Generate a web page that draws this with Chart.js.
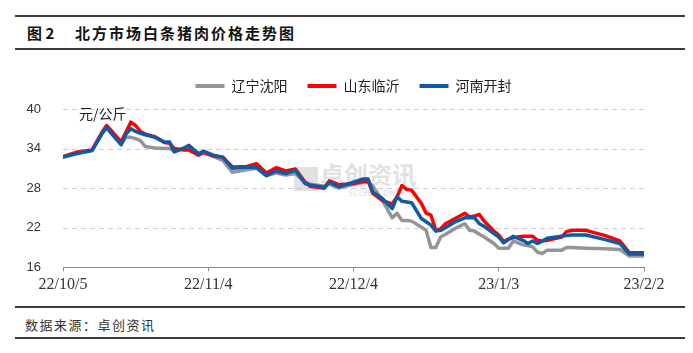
<!DOCTYPE html>
<html>
<head>
<meta charset="utf-8">
<script src="https://cdn.jsdelivr.net/npm/chart.js@4.4.1/dist/chart.umd.min.js"></script>
<style>
  html, body { margin: 0; padding: 0; background: #fff; width: 693px; height: 353px; overflow: hidden; }
  .rule { position: absolute; left: 15px; width: 670px; height: 2px; background: #3c3c3c; }
  .title { position: absolute; left: 27px; top: 25px; font: bold 15px/16px "Noto Sans CJK SC", sans-serif; color: #111; letter-spacing: 2px; white-space: nowrap; }
  .title .num { display: inline-block; width: 48px; letter-spacing: 0; }
  .source { position: absolute; left: 25px; top: 317px; font: 13px/15px "Noto Sans CJK SC", sans-serif; color: #333; letter-spacing: 1.5px; }
  #wrap { position: absolute; left: 0; top: 55px; width: 693px; height: 245px; }
</style>
</head>
<body>
<div class="rule" style="top:15px"></div>
<div class="title"><span class="num">图 2</span>北方市场白条猪肉价格走势图</div>
<div class="rule" style="top:48px"></div>
<div id="wrap"><canvas id="myChart"></canvas></div>
<div class="rule" style="top:306px"></div>
<div class="source">数据来源：卓创资讯</div>
<div class="rule" style="top:337px"></div>

<script>
// 天数（从 22/10/5 起算）
const days = [0, 3, 6, 8, 9, 10, 12, 13, 14, 15, 16, 17, 19, 21, 22, 23, 25, 26, 28, 29, 31, 33, 35, 38, 40, 42, 44, 46, 48, 50, 51, 54, 55, 57, 60, 62, 63, 64, 66, 68, 69, 70, 71, 72, 74, 75, 76, 77, 78, 79, 81, 83, 84, 85, 86, 87, 89, 90, 91, 92, 93, 95, 96, 97, 98, 99, 100, 103, 104, 105, 108, 112, 115, 117, 120];
// 横坐标刻度
const tickDays = [0, 30, 60, 90, 120];
const tickLabels = ['22/10/5', '22/11/4', '22/12/4', '23/1/3', '23/2/2'];
// 纵坐标刻度
const yTicks = [16, 22, 28, 34, 40];

const seriesNames = ['辽宁沈阳', '山东临沂', '河南开封'];
// 辽宁沈阳
const shenyang = [32.7, 33.3, 33.7, 36.2, 37.2, 36.3, 34.6, 35.7, 35.7, 35.5, 35.2, 34.3, 34.1, 34.0, 34.0, 33.6, 34.0, 34.3, 33.3, 33.5, 32.8, 32.2, 30.4, 30.8, 31.0, 29.9, 30.3, 30.0, 30.2, 28.9, 28.6, 28.3, 28.6, 28.0, 28.6, 28.9, 28.9, 28.3, 26.1, 23.5, 24.2, 23.1, 23.1, 23.0, 22.1, 21.6, 19.0, 19.0, 20.6, 21.0, 21.9, 22.6, 21.6, 21.5, 21.0, 20.6, 19.6, 18.9, 18.9, 18.9, 20.0, 19.4, 19.3, 19.1, 18.3, 18.1, 18.6, 18.6, 19.0, 19.0, 18.9, 18.8, 18.7, 17.7, 17.7];
// 山东临沂
const linyi = [32.8, 33.5, 33.8, 36.4, 37.5, 36.7, 35.0, 36.5, 38.0, 37.5, 36.6, 36.2, 35.8, 34.9, 34.8, 34.0, 33.8, 33.8, 33.0, 33.4, 32.9, 32.7, 31.2, 31.3, 31.7, 30.3, 31.1, 30.6, 30.9, 28.9, 28.3, 28.0, 29.1, 28.5, 28.7, 29.0, 29.1, 27.2, 26.1, 25.6, 26.7, 28.4, 27.8, 27.7, 25.7, 24.2, 23.9, 21.6, 21.8, 22.6, 23.4, 24.2, 23.6, 23.8, 24.0, 23.0, 21.5, 20.9, 19.9, 20.3, 20.5, 20.7, 20.7, 20.7, 20.1, 20.0, 20.1, 20.6, 21.4, 21.6, 21.6, 20.8, 20.0, 18.2, 18.2];
// 河南开封
const kaifeng = [32.7, 33.3, 33.7, 36.2, 37.2, 36.3, 34.6, 36.2, 37.0, 36.6, 36.3, 36.1, 35.7, 35.0, 35.0, 33.5, 34.1, 34.5, 33.2, 33.6, 33.0, 32.7, 31.0, 31.2, 31.1, 29.9, 30.6, 30.2, 30.7, 28.7, 28.5, 28.1, 28.9, 28.2, 28.9, 29.4, 29.4, 27.4, 26.4, 24.9, 26.7, 26.0, 25.9, 25.8, 23.4, 22.9, 22.4, 21.5, 21.6, 22.0, 22.9, 23.5, 23.5, 23.5, 22.6, 22.2, 21.1, 20.6, 19.7, 20.2, 20.7, 20.1, 19.6, 20.0, 19.6, 20.0, 20.4, 20.7, 20.8, 20.9, 20.9, 20.2, 19.6, 18.0, 18.0];

function toPoints(values){
  return values.map((v, i) => ({x: days[i], y: v}));
}

// 图例下方留白
const legendGap = {
  id: 'legendGap',
  beforeLayout(chart){
    const lg = chart.legend;
    if (lg && !lg._gapDone) {
      const fit = lg.fit;
      lg.fit = function(){ fit.call(this); this.height += 6; };
      lg._gapDone = true;
    }
  }
};

// 虚线网格、单位和水印
const extraText = {
  id: 'extraText',
  beforeDatasetsDraw(chart){
    const ctx = chart.ctx, a = chart.chartArea, ys = chart.scales.y;
    ctx.save();
    // 虚线网格
    ctx.strokeStyle = '#cfcfcf';
    ctx.lineWidth = 1;
    ctx.setLineDash([5, 4]);
    yTicks.forEach(v => {
      if (v === ys.min) return;
      const py = Math.round(ys.getPixelForValue(v)) + 0.5;
      ctx.beginPath();
      ctx.moveTo(a.left, py);
      ctx.lineTo(a.right, py);
      ctx.stroke();
    });
    ctx.setLineDash([]);
    // 水印
    ctx.fillStyle = 'rgba(195,195,195,0.5)';
    ctx.fillRect(a.left + 231, a.top + 58, 24, 24);
    ctx.font = 'bold 24px "Noto Sans CJK SC"';
    ctx.textBaseline = 'middle';
    ctx.fillText('卓创资讯', a.left + 257, a.top + 66);
    ctx.font = '10px "DejaVu Sans"';
    ctx.fillText('sci99.com', a.left + 285, a.top + 84);
    // 单位
    ctx.fillStyle = '#222';
    ctx.font = '14px "Noto Sans CJK SC"';
    ctx.textAlign = 'left';
    ctx.fillText('元/公斤', a.left + 16, a.top + 5);
    ctx.restore();
  }
};

const config = {
  type: 'line',
  data: {
    datasets: [
      { label: seriesNames[0], data: toPoints(shenyang), borderColor: '#959595', backgroundColor: '#959595', order: 3 },
      { label: seriesNames[1], data: toPoints(linyi), borderColor: '#ff0000', backgroundColor: '#ff0000', order: 2 },
      { label: seriesNames[2], data: toPoints(kaifeng), borderColor: '#0f5aa6', backgroundColor: '#0f5aa6', order: 1 }
    ]
  },
  options: {
    responsive: true,
    maintainAspectRatio: false,
    animation: false,
    elements: {
      line: { borderWidth: 3.5, tension: 0, borderJoinStyle: 'round', borderCapStyle: 'round' },
      point: { radius: 0 }
    },
    layout: { padding: { left: 0, right: 49, top: 4, bottom: 0 } },
    plugins: {
      tooltip: { enabled: false },
      legend: {
        position: 'top',
        fullSize: false,
        labels: {
          boxWidth: 29,
          boxHeight: 4,
          padding: 20,
          color: '#222',
          font: { family: '"Noto Sans CJK SC"', size: 14 },
          sort: (a, b) => a.datasetIndex - b.datasetIndex,
          generateLabels(chart){
            const items = Chart.defaults.plugins.legend.labels.generateLabels(chart);
            items.forEach(it => { it.lineWidth = 0; it.fillStyle = it.strokeStyle; });
            return items;
          }
        }
      }
    },
    scales: {
      x: {
        type: 'linear',
        min: 0,
        max: 120,
        afterBuildTicks(scale){ scale.ticks = tickDays.map(v => ({value: v})); },
        afterFit(scale){ scale.height = 32.7; },
        border: { display: true, color: '#8c8c8c', width: 1 },
        grid: { display: true, drawOnChartArea: false, tickLength: 4, color: '#8c8c8c' },
        ticks: {
          padding: 4,
          color: '#333',
          font: { family: '"Liberation Serif"', size: 16 },
          maxRotation: 0,
          callback(v){ return tickLabels[tickDays.indexOf(v)]; }
        }
      },
      y: {
        min: 16,
        max: 40,
        afterBuildTicks(scale){ scale.ticks = yTicks.map(v => ({value: v})); },
        afterFit(scale){ scale.width = 63; },
        border: { display: false },
        grid: { display: false },
        ticks: {
          padding: 14,
          color: '#333',
          font: { family: '"Liberation Sans"', size: 13 }
        }
      }
    }
  },
  plugins: [legendGap, extraText]
};

const ctx = document.getElementById('myChart').getContext('2d');
const myChart = new Chart(ctx, config);
</script>
</body>
</html>
